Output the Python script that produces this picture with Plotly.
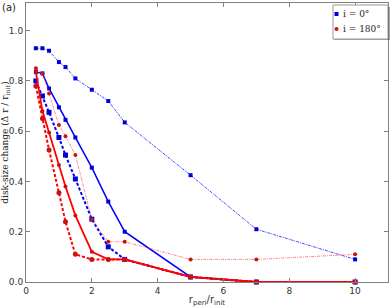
import plotly.graph_objects as go

r_peri = [0.3, 0.5, 0.7, 1.0, 1.2, 1.5, 2.0, 2.5, 3.0, 5.0, 7.0, 10.0]

blue_dotted = [0.93, 0.93, 0.92, 0.875, 0.855, 0.81, 0.765, 0.72, 0.635, 0.425, 0.21, 0.09]
blue_solid = [0.835, 0.83, 0.77, 0.695, 0.645, 0.575, 0.455, 0.32, 0.20, 0.02, 0.0, 0.0]
blue_dashed = [0.80, 0.74, 0.675, 0.575, 0.505, 0.41, 0.25, 0.14, 0.09, 0.02, 0.0, 0.0]

red_solid = [0.835, 0.68, 0.595, 0.465, 0.38, 0.265, 0.12, 0.09, 0.09, 0.02, 0.0, 0.0]
red_dashed = [0.78, 0.65, 0.525, 0.355, 0.24, 0.11, 0.09, 0.09, 0.09, 0.02, 0.0, 0.0]
red_dotted = [0.85, 0.83, 0.75, 0.625, 0.58, 0.505, 0.25, 0.16, 0.16, 0.09, 0.09, 0.11]

x_ticks = [0, 2, 4, 6, 8, 10]
y_ticks = [0.0, 0.2, 0.4, 0.6, 0.8, 1.0]
legend_labels = ["i = 0°", "i = 180°"]

BLUE = "#0000ff"
RED = "#ff0000"
BLUE_M = "#0000dd"
RED_M = "#cc1111"

W, H = 390, 307
ML, MR, MT, MB = 26, 2, 3, 25
PW, PH = W - ML - MR, H - MT - MB


def px_x(p):
    return (p - ML) / PW


def px_y(p):
    return (H - MB - p) / PH


fig = go.Figure()


def add(y, line_color, width, dash, mcolor, symbol, size):
    fig.add_trace(go.Scatter(
        x=r_peri, y=y, mode="lines+markers", showlegend=False,
        line=dict(color=line_color, width=width, dash=dash),
        marker=dict(color=mcolor, symbol=symbol, size=size),
        cliponaxis=False,
    ))


add(blue_dotted, "rgba(40,40,255,0.85)", 1, "3px,1px,1px,1px", BLUE_M, "square", 4)
add(blue_dashed, BLUE, 2, "3px,2px", BLUE_M, "square", 5)
add(blue_solid, BLUE, 1.5, "solid", BLUE_M, "square", 4)
add(red_dotted, "rgba(255,60,60,0.6)", 1, "3px,1px,1px,1px", RED_M, "circle", 4)
add(red_dashed, RED, 2, "3px,2px", RED_M, "circle", 5)
add(red_solid, RED, 1.8, "solid", RED_M, "circle", 4)

axis_common = dict(
    showline=True, linecolor="#808080", linewidth=1, mirror="ticks",
    ticks="inside", ticklen=4, tickcolor="#808080", showgrid=False, zeroline=False,
    automargin=False,
    tickfont=dict(family="DejaVu Sans", size=9, color="#333333"),
)

fig.update_layout(
    width=W, height=H,
    margin=dict(l=ML, r=MR, t=MT, b=MB),
    paper_bgcolor="white", plot_bgcolor="white",
    xaxis=dict(range=[0, 11], tickvals=x_ticks, ticktext=[str(v) for v in x_ticks],
               title=dict(text="r<sub>peri</sub>/r<sub>init</sub>",
                          font=dict(family="DejaVu Sans", size=10, color="#333333")),
               **axis_common),
    yaxis=dict(range=[0, 1.11], tickvals=y_ticks, ticktext=[f"{v:.1f}" for v in y_ticks],
               title=dict(text="disk-size change (Δ r / r<sub>init</sub>)",
                          font=dict(family="DejaVu Serif", size=9, color="#222222")),
               **axis_common),
    showlegend=False,
)

# manual legend box (matplotlib style)
fig.add_shape(type="rect", xref="paper", yref="paper",
              x0=px_x(334), x1=px_x(390), y0=px_y(40), y1=px_y(7),
              line=dict(width=0), fillcolor="rgba(0,0,0,0.35)", layer="above")
fig.add_shape(type="rect", xref="paper", yref="paper",
              x0=px_x(333), x1=px_x(388), y0=px_y(39), y1=px_y(5),
              line=dict(color="#999999", width=1), fillcolor="white", layer="above")
fig.add_shape(type="rect", xref="paper", yref="paper",
              x0=px_x(334.5), x1=px_x(338.5), y0=px_y(16), y1=px_y(12),
              line=dict(width=0), fillcolor=BLUE_M, layer="above")
fig.add_shape(type="circle", xref="paper", yref="paper",
              x0=px_x(334.5), x1=px_x(338.5), y0=px_y(31), y1=px_y(27),
              line=dict(width=0), fillcolor=RED_M, layer="above")
for lbl, py in zip(legend_labels, [14, 29]):
    fig.add_annotation(xref="paper", yref="paper", x=px_x(341), y=px_y(py),
                       xanchor="left", yanchor="middle", text=lbl, showarrow=False,
                       font=dict(family="DejaVu Serif", size=9, color="#222222"))

fig.add_annotation(xref="paper", yref="paper", x=0, y=1, xshift=-26, yshift=3,
                   xanchor="left", yanchor="top",
                   text="(a)", showarrow=False, font=dict(family="DejaVu Sans", size=10, color="#222222"))

fig.write_html("out.html", config={"displayModeBar": False},
               post_script="document.body.style.margin='0px';document.body.style.overflow='hidden';")
